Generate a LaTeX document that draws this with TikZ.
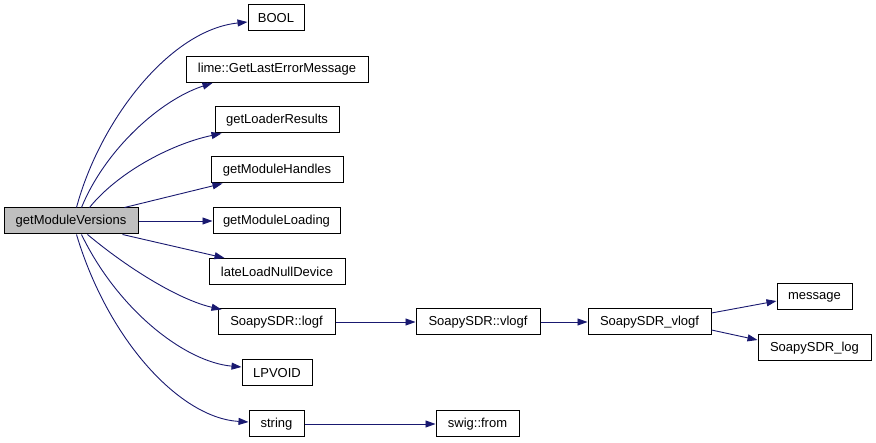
\documentclass[tikz,border=0pt]{standalone}
\usepackage{fontspec}
\setmainfont{Liberation Sans}
\usetikzlibrary{arrows.meta}
\definecolor{edgeblue}{RGB}{25,25,112}
\definecolor{rootgray}{RGB}{191,191,191}
\tikzset{
  fn/.style={draw=black, line width=1pt, fill=white, rectangle, inner sep=0pt,
    minimum height=26pt, font=\fontsize{13}{15}\selectfont, anchor=center},
  rootfn/.style={fn, fill=rootgray},
  call/.style={draw=edgeblue, line width=0.9pt,
    -{Triangle[length=10pt,width=7pt,fill=edgeblue]}},
}
\begin{document}
\begin{tikzpicture}[x=1pt,y=-1pt]
\useasboundingbox (0,0) rectangle (876,443);

% caller
\node[rootfn, minimum width=134pt] (root) at (71,221) {getModuleVersions};

% direct callees
\node[fn, minimum width=56pt]  (bool)    at (276,18)    {BOOL};
\node[fn, minimum width=182pt] (lime)    at (277,69.5)  {lime::GetLastErrorMessage};
\node[fn, minimum width=124pt] (loader)  at (277,120)   {getLoaderResults};
\node[fn, minimum width=132pt] (handles) at (277,170)   {getModuleHandles};
\node[fn, minimum width=127pt] (loading) at (276.5,221) {getModuleLoading};
\node[fn, minimum width=136pt] (late)    at (277,271.5) {lateLoadNullDevice};
\node[fn, minimum width=117pt] (logf)    at (276.5,322) {SoapySDR::logf};
\node[fn, minimum width=70pt]  (lpvoid)  at (277,373)   {LPVOID};
\node[fn, minimum width=55pt]  (string)  at (276.5,424) {string};

% deeper callees
\node[fn, minimum width=124pt] (vlogf)   at (478,322)   {SoapySDR::vlogf};
\node[fn, minimum width=123pt] (svlogf)  at (649.5,322) {SoapySDR\_vlogf};
\node[fn, minimum width=75pt]  (message) at (814.5,297) {message};
\node[fn, minimum width=113pt] (slog)    at (814.5,348) {SoapySDR\_log};
\node[fn, minimum width=83pt]  (swig)    at (477.5,424) {swig::from};

% calls from the root, upper fan
\draw[call] ([xshift=73pt]root.north west) .. controls (100,120) and (170,30) .. ([yshift=-4pt]bool.west);
\draw[call] ([xshift=78pt]root.north west) .. controls (105,150) and (160,100) .. ([xshift=27pt]lime.south west);
\draw[call] ([xshift=86pt]root.north west) .. controls (120,170) and (175,143) .. ([xshift=7pt]loader.south west);
\draw[call] ([xshift=121pt]root.north west) -- ([xshift=12pt]handles.south west);
\draw[call] (root.east) -- (loading.west);

% calls from the root, lower fan
\draw[call] ([xshift=119pt]root.south west) -- ([xshift=16pt]late.north west);
\draw[call] ([xshift=84pt]root.south west) .. controls (130,270) and (180,300) .. ([xshift=4pt,yshift=-1pt]logf.north west);
\draw[call] ([xshift=78pt]root.south west) .. controls (118,310) and (185,362) .. ([yshift=6pt]lpvoid.west);
\draw[call] ([xshift=73pt]root.south west) .. controls (108,340) and (180,418) .. ([yshift=2pt]string.west);

% further calls
\draw[call] (logf.east) -- (vlogf.west);
\draw[call] (vlogf.east) -- (svlogf.west);
\draw[call] ([yshift=9pt]svlogf.east) -- ([yshift=-4pt]message.west);
\draw[call] ([yshift=-8pt]svlogf.east) -- ([yshift=8pt]slog.west);
\draw[call] (string.east) -- (swig.west);
\end{tikzpicture}
\end{document}
